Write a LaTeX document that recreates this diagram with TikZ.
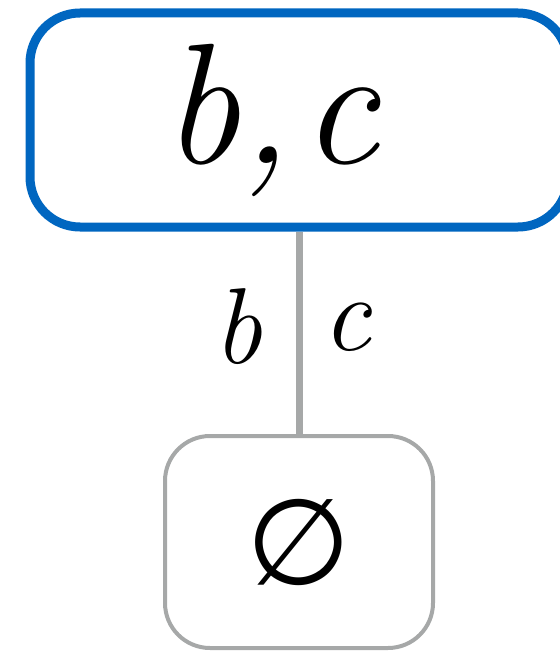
\documentclass[tikz,border=0pt]{standalone}
\usepackage{fontspec}
\newfontfamily\symbfont{DejaVu Sans}
\usepackage{tikz}
\usetikzlibrary{positioning}
\usepackage{xcolor}
\definecolor{setblue}{HTML}{0066C0}
\definecolor{setgray}{HTML}{A6A8A8}

\begin{document}
\begin{tikzpicture}[x=1pt, y=-1pt,
  setbox/.style={draw=setblue, line width=9pt, rounded corners=50pt, minimum width=538pt, minimum height=214pt, inner sep=0pt, font=\fontsize{172}{172}\selectfont\itshape\addfontfeatures{FakeBold=1.5}},
  emptybox/.style={draw=setgray, line width=4pt, rounded corners=45pt, minimum width=268pt, minimum height=212pt, inner sep=0pt, font=\fontsize{120}{120}\selectfont},
  link/.style={draw=setgray, line width=7pt},
  lbl/.style={inner sep=0pt, font=\fontsize{108}{108}\selectfont\itshape\addfontfeatures{FakeBold=1.5}}
]
  \useasboundingbox (0,0) rectangle (559,652);

  \node[setbox] (bc) at (299,120) {\hbox{b,\hspace{0.06em}c\hspace{56pt}}};
  \node[emptybox] (none) at (299,542) {\symbfont ∅};

  \draw[link] (bc) -- (none)
    node[lbl, midway, left=33pt, yshift=6pt] (lb) {b}
    node[lbl, midway, right=20pt, yshift=6pt] (lc) {c};
\end{tikzpicture}
\end{document}
